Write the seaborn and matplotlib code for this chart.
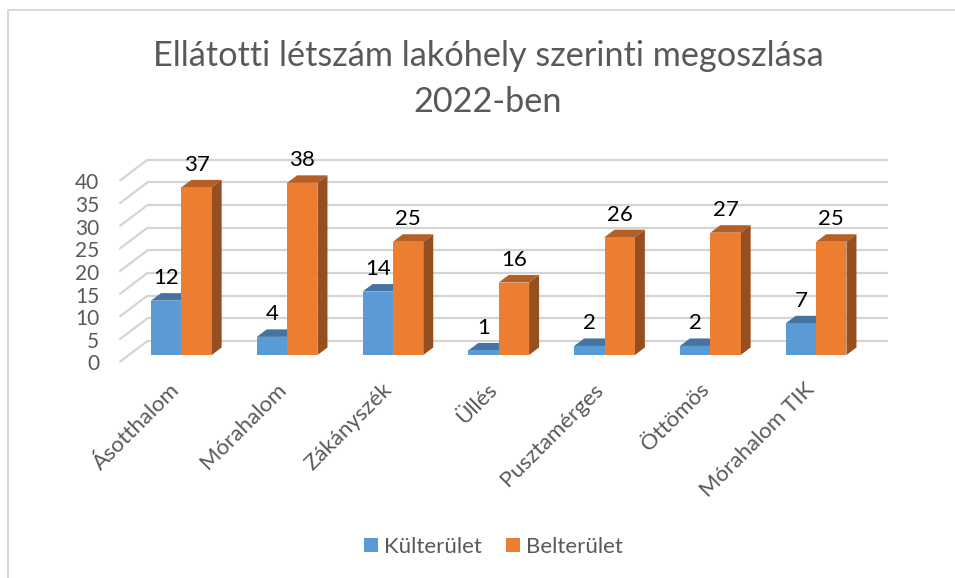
import pandas as pd
import matplotlib
matplotlib.use('Agg')
import matplotlib.pyplot as plt
import seaborn as sns
from matplotlib.lines import Line2D
from matplotlib.patches import Polygon
from matplotlib.transforms import ScaledTranslation

# Data
telepulesek = ['Ásotthalom', 'Mórahalom', 'Zákányszék', 'Üllés', 'Pusztamérges', 'Öttömös', 'Mórahalom TIK']
kulterulet = [12, 4, 14, 1, 2, 2, 7]
belterulet = [37, 38, 25, 16, 26, 27, 25]
y_ticks = [0, 5, 10, 15, 20, 25, 30, 35, 40]
cim = 'Ellátotti létszám lakóhely szerinti megoszlása\n2022-ben'

df = pd.DataFrame({
    'telepules': telepulesek * 2,
    'terulet': ['Külterület'] * 7 + ['Belterület'] * 7,
    'letszam': kulterulet + belterulet,
})

# Style
sns.set_theme(style='white')
plt.rcParams['font.family'] = ['Lato', 'DejaVu Sans']
SZURKE = '#595959'
RACS = '#d4d4d4'
W, H = 955, 578

fig = plt.figure(figsize=(W / 100, H / 100), dpi=100)
# plot area in pixels: category step 105.8 px, 4.53 px per unit
ax = fig.add_axes([128.4 / W, 1 - 355 / H, 740.6 / W, 181.2 / H])

sns.barplot(data=df, x='telepules', y='letszam', hue='terulet', order=telepulesek,
            palette=['#5B9BD5', '#ED7D31'], saturation=1, width=0.574, gap=0,
            edgecolor='none', linewidth=0, zorder=3, ax=ax)
ax.set_xlim(-0.5, 6.5)
ax.set_ylim(0, 40)
ax.set_xlabel('')
ax.set_ylabel('')
sns.despine(ax=ax, left=True, bottom=True)

# Fake 3D: offsets expressed in data units
px_x = 1 / 105.8
px_y = 1 / 4.53
back_dx, back_dy = 19 * px_x, 14 * px_y
front_dx, front_dy = -8.4 * px_x, -6.7 * px_y
bar_dx, bar_dy = 10 * px_x, 7.5 * px_y

# Back wall and side wall lines
for v in y_ticks:
    ax.plot([-0.5 + back_dx, 6.5 + back_dx], [v + back_dy] * 2, color=RACS, lw=1.6,
            clip_on=False, zorder=1, solid_capstyle='butt')
    ax.plot([-0.5 + front_dx, -0.5 + back_dx], [v + front_dy, v + back_dy], color=RACS, lw=1.6,
            clip_on=False, zorder=1)

# Top and side faces of the bars
arnyek = [('#44749F', '#3A6488'), ('#B55E26', '#964F20')]
for cont, (felso, oldal) in zip(ax.containers, arnyek):
    for bar in cont:
        x0, x1 = bar.get_x(), bar.get_x() + bar.get_width()
        top = bar.get_height()
        ax.add_patch(Polygon([(x0, top), (x1, top), (x1 + bar_dx, top + bar_dy), (x0 + bar_dx, top + bar_dy)],
                             closed=True, fc=felso, ec='none', zorder=2.5, clip_on=False))
        ax.add_patch(Polygon([(x1, 0), (x1 + bar_dx, bar_dy), (x1 + bar_dx, top + bar_dy), (x1, top)],
                             closed=True, fc=oldal, ec='none', zorder=2.5, clip_on=False))
    ax.bar_label(cont, padding=9, fontsize=16, color='black', clip_on=False, zorder=5)

# Ticks
ax.set_yticks(y_ticks)
ax.set_yticklabels([str(v) for v in y_ticks])
ax.tick_params(axis='y', length=0, pad=21, labelsize=15, labelcolor=SZURKE)
ax.tick_params(axis='x', length=0, pad=15, labelsize=16, labelcolor=SZURKE)
tick_offset = ScaledTranslation(0, -7.5 / 100, fig.dpi_scale_trans)
for lab in ax.get_yticklabels():
    lab.set_transform(lab.get_transform() + tick_offset)
xtick_offset = ScaledTranslation(-11.5 / 100, -3.5 / 100, fig.dpi_scale_trans)
for lab in ax.get_xticklabels():
    lab.set_rotation(45)
    lab.set_ha('right')
    lab.set_rotation_mode('anchor')
    lab.set_transform(lab.get_transform() + xtick_offset)

# Title
fig.text(488 / W, 1 - 79 / H, cim, ha='center', va='center', fontsize=24.7,
         color=SZURKE, linespacing=1.5)

# Legend
handles, labels = ax.get_legend_handles_labels()
ax.legend_.remove()
fig.legend(handles, labels, ncol=2, frameon=False, loc='center', bbox_to_anchor=(493 / W, 1 - 547 / H),
           fontsize=16, labelcolor=SZURKE, handlelength=0.63, handleheight=0.63,
           handletextpad=0.27, columnspacing=1.09)

# Chart frame (top and left edge only reach into the picture)
fig.add_artist(Line2D([7.5 / W, 1], [1 - 10 / H] * 2, color='#d9d9d9', lw=1.5))
fig.add_artist(Line2D([7.5 / W] * 2, [1 - 10 / H, 0], color='#d9d9d9', lw=1.5))

fig.savefig('out.png', dpi=100)
